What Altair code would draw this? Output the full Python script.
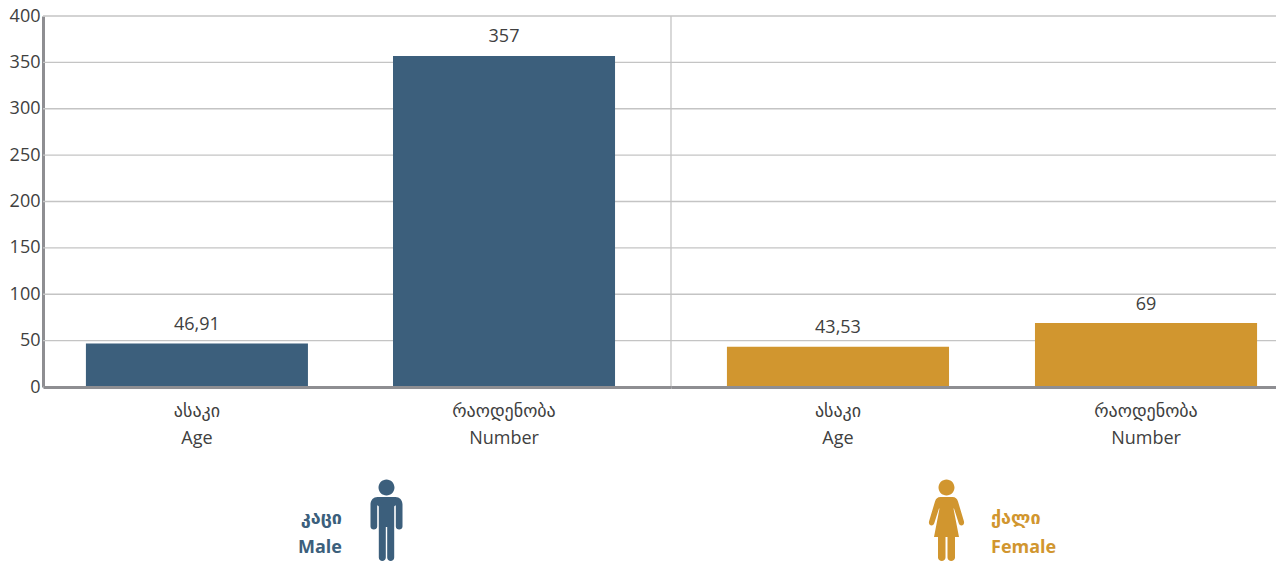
import re
import altair as alt
import pandas as pd

categories = ["ასაკი\nAge", "რაოდენობა\nNumber"]
male_values = [46.91, 357]
female_values = [43.53, 69]
male_labels = ["46,91", "357"]
female_labels = ["43,53", "69"]
y_ticks = [0, 50, 100, 150, 200, 250, 300, 350, 400]

BLUE = "#3c5f7c"
GOLD = "#d1962f"
TEXT = "#404040"
GRID = "#c4c4c4"
AXIS = "#8e8e92"
FONT = "Open Sans, DejaVu Sans"

MALE_PX = (
    "M0,-41 C4.4,-41 8,-37.4 8,-33 C8,-28.6 4.4,-25 0,-25 C-4.4,-25 -8,-28.6 -8,-33 C-8,-37.4 -4.4,-41 0,-41 Z "
    "M-9,-23.5 L9,-23.5 C13,-23.5 16,-20.5 16,-16 L16,6 C16,7.8 14.5,9 12.7,9 C10.9,9 9.3,7.8 9.3,6 "
    "L9.3,-15 L8.6,-15 L7.7,-14 L7.7,37 C7.7,39 6,40.5 4.2,40.5 C2.4,40.5 0.7,39 0.7,37 L0.7,6.5 L-0.7,6.5 "
    "L-0.7,37 C-0.7,39 -2.4,40.5 -4.2,40.5 C-6,40.5 -7.7,39 -7.7,37 L-7.7,-14 L-8.6,-15 L-9.3,-15 L-9.3,6 "
    "C-9.3,7.8 -10.9,9 -12.7,9 C-14.5,9 -16,7.8 -16,6 L-16,-16 C-16,-20.5 -13,-23.5 -9,-23.5 Z"
)
FEMALE_PX = (
    "M0,-41 C4.4,-41 8,-37.4 8,-33 C8,-28.6 4.4,-25 0,-25 C-4.4,-25 -8,-28.6 -8,-33 C-8,-37.4 -4.4,-41 0,-41 Z "
    "M-6,-23.5 L6,-23.5 C9,-23.5 10.5,-22 11.5,-19 L17.5,1 C18,3.5 16.5,5 15,5 C13.5,5 12.5,4 12,2 L7.5,-12 L7,-12 "
    "L12.5,16.5 L-12.5,16.5 L-7,-12 L-7.5,-12 L-12,2 C-12.5,4 -13.5,5 -15,5 C-16.5,5 -18,3.5 -17.5,1 L-11.5,-19 "
    "C-10.5,-22 -9,-23.5 -6,-23.5 Z "
    "M1,16.5 L8.5,16.5 L8.5,37 C8.5,39 6.5,40.5 4.7,40.5 C2.9,40.5 1,39 1,37 Z "
    "M-1,16.5 L-8.5,16.5 L-8.5,37 C-8.5,39 -6.5,40.5 -4.7,40.5 C-2.9,40.5 -1,39 -1,37 Z"
)


def unit_path(path):
    return re.sub(r"-?\d+(?:\.\d+)?", lambda m: f"{float(m.group()) / 40.5:.4f}", path)


y_axis = alt.Axis(
    values=y_ticks, ticks=False, grid=False, labelFont=FONT, labelFontSize=18, labelColor=TEXT, labelPadding=3,
    domainColor=AXIS, domainWidth=3, labelBaseline="middle",
)
y_scale = alt.Scale(domain=[0, 400], nice=False)
y = alt.Y("value:Q", title=None, scale=y_scale, axis=y_axis)


def legend(color, words, icon_path, icon_x, text_x, text_align):
    one = pd.DataFrame({"a": [0]})
    icon = alt.Chart(one).mark_point(
        shape=unit_path(icon_path), size=6561, filled=True, opacity=1, color=color, strokeWidth=0
    ).encode(x=alt.value(icon_x), y=alt.value(504.5))
    name1 = alt.Chart(one).mark_text(
        font=FONT, fontSize=18, fontWeight="bold", color=color, align=text_align, baseline="middle"
    ).encode(x=alt.value(text_x), y=alt.value(502.5), text=alt.value(words[0]))
    name2 = alt.Chart(one).mark_text(
        font=FONT, fontSize=18, fontWeight="bold", color=color, align=text_align, baseline="middle"
    ).encode(x=alt.value(text_x), y=alt.value(532), text=alt.value(words[1]))
    return [icon, name1, name2]


def panel(values, labels, color, x_range, align, pad_outer, pad_inner):
    df = pd.DataFrame({"category": categories, "value": values, "label": labels})
    x = alt.X(
        "category:N",
        sort=None,
        title=None,
        scale=alt.Scale(range=x_range, paddingInner=pad_inner, paddingOuter=pad_outer, align=align),
        axis=alt.Axis(
            orient="bottom",
            labelAngle=0, ticks=False, grid=False, labelFont=FONT, labelFontSize=18,
            labelColor=TEXT, labelLineHeight=27, labelPadding=15, domainColor=AXIS,
            domainWidth=3, zindex=1, labelExpr="split(datum.label, '\\n')",
            labelBaseline="top",
        ),
    )
    bars = alt.Chart(df).mark_bar(color=color, opacity=1).encode(x=x, y=y)
    text = alt.Chart(df).mark_text(
        font=FONT, fontSize=18, color=TEXT, baseline="alphabetic", dy=-13.5
    ).encode(x=x, y=y, text="label:N")
    return alt.layer(bars, text)


left = panel(male_values, male_labels, BLUE, [0, 628], 0.434, 0.161, 0.277)
right = panel(female_values, female_labels, GOLD, [628, 1241], 0.675, 0.1345, 0.279)
left_legend = legend(BLUE, ["კაცი", "Male"], MALE_PX, 343.5, 299, "right")
right_legend = legend(GOLD, ["ქალი", "Female"], FEMALE_PX, 903.5, 948, "left")

grid = alt.Chart(pd.DataFrame({"value": y_ticks})).mark_rule(color=GRID, strokeWidth=1.3).encode(
    y=y, x=alt.value(0), x2=alt.value(1241),
)
divider = alt.Chart(pd.DataFrame({"a": [0]})).mark_rule(color=GRID, strokeWidth=1.3).encode(
    x=alt.value(628), y=alt.value(0), y2=alt.value(371)
)

chart = (
    alt.layer(grid, divider, left, right, *left_legend, *right_legend)
    .resolve_scale(x="independent")
    .properties(
        width=1233,
        height=371,
        autosize=alt.AutoSizeParams(type="none"),
        padding={"left": 35, "top": 8, "right": 0, "bottom": 174},
        background="white",
    )
    .configure_view(stroke=None)
)
chart.save("out.html", embed_options={"renderer": "svg", "actions": False})
